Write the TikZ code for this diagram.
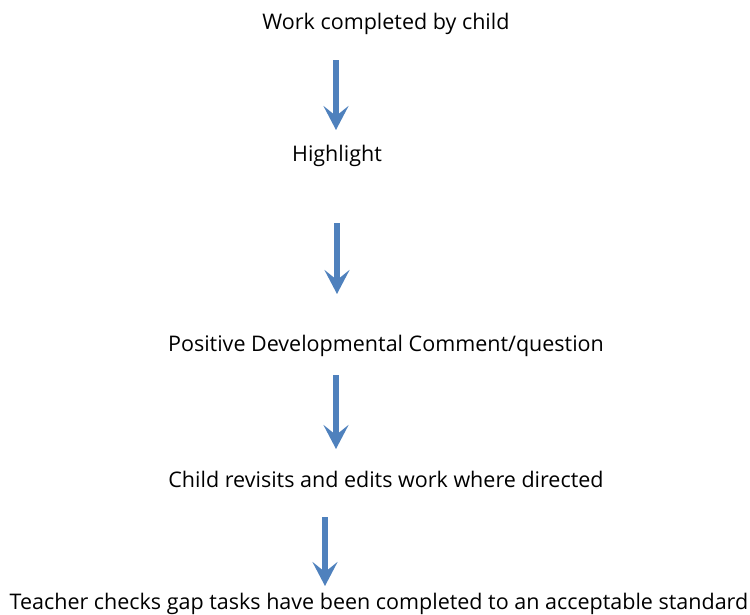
\documentclass[tikz,border=0pt]{standalone}
\usepackage{fontspec}
\setmainfont{Open Sans}
\usetikzlibrary{arrows.meta}
\definecolor{arrowblue}{RGB}{79,129,189}
\begin{document}
\begin{tikzpicture}[x=1pt,y=-1pt,
  lbl/.style={anchor=base,inner sep=0pt,font=\fontsize{21.5}{26}\selectfont},
  flowarrow/.style={draw=arrowblue,line width=5.5pt,-{Stealth[length=24pt,width=25pt,inset=10pt]}}]
\useasboundingbox (0,0) rectangle (750,614);
\node[lbl] (t1) at (386,29) {Work completed by child};
\node[lbl] (t2) at (337,161) {Highlight};
\node[lbl] (t3) at (386,351) {Positive Developmental Comment/question};
\node[lbl] (t4) at (386,487) {Child revisits and edits work where directed};
\node[lbl] (t5) at (379,609) {Teacher checks gap tasks have been completed to an acceptable standard};
\coordinate (a1s) at (336,60);  \coordinate (a1e) at (336,130);
\coordinate (a2s) at (337,223); \coordinate (a2e) at (337,294);
\coordinate (a3s) at (336,375); \coordinate (a3e) at (336,449);
\coordinate (a4s) at (325,517); \coordinate (a4e) at (325,586);
\draw[flowarrow] (a1s) -- (a1e);
\draw[flowarrow] (a2s) -- (a2e);
\draw[flowarrow] (a3s) -- (a3e);
\draw[flowarrow] (a4s) -- (a4e);
\end{tikzpicture}
\end{document}
